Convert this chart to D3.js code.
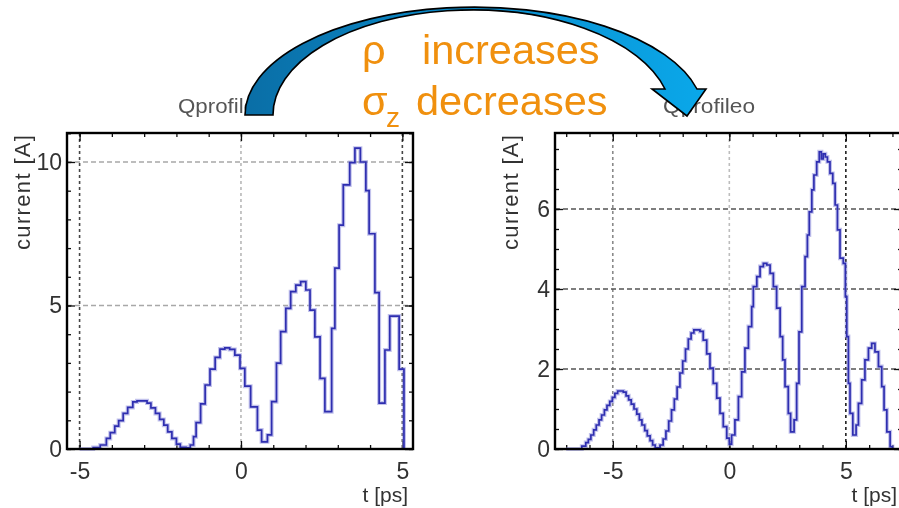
<!DOCTYPE html>
<html>
<head>
<meta charset="utf-8">
<script src="https://cdn.jsdelivr.net/npm/d3@7"></script>
<style>
  html, body { margin: 0; padding: 0; background: #ffffff; }
  svg { display: block; font-family: "Liberation Sans", Arial, Helvetica, sans-serif; }
</style>
</head>
<body>
<svg id="chart" width="899" height="508"></svg>
<script>
// Bunch current profiles: step histograms, time of bin start [ps] and current [A]
const leftT = [-5.0, -4.58, -4.36, -4.17, -4.05, -3.91, -3.79, -3.65, -3.51, -3.35,
  -3.22, -2.91, -2.79, -2.65, -2.52, -2.39, -2.27, -2.14, -2.00, -1.88,
  -1.70, -1.57, -1.47, -1.39, -1.25, -1.11, -0.96, -0.80, -0.65, -0.50,
  -0.35, -0.19, -0.03, 0.12, 0.30, 0.51, 0.64, 0.82, 0.95, 1.10,
  1.23, 1.39, 1.54, 1.70, 1.85, 2.01, 2.14, 2.29, 2.45, 2.60,
  2.81, 2.91, 3.04, 3.17, 3.37, 3.53, 3.70, 3.87, 3.97, 4.15,
  4.28, 4.46, 4.61, 4.90, 5.05];
const leftI = [0, 0.05, 0.14, 0.37, 0.57, 0.80, 0.99, 1.24, 1.45, 1.64,
  1.68, 1.60, 1.43, 1.24, 1.03, 0.83, 0.60, 0.37, 0.17, 0.06,
  0.04, 0.14, 0.43, 0.92, 1.57, 2.23, 2.78, 3.19, 3.48, 3.52,
  3.47, 3.27, 2.81, 2.19, 1.47, 0.66, 0.25, 0.49, 1.65, 2.99,
  4.09, 4.90, 5.48, 5.71, 5.83, 5.54, 4.84, 3.91, 2.46, 1.30,
  4.20, 6.30, 7.80, 9.20, 9.98, 10.48, 10.00, 9.00, 7.50, 5.45,
  1.60, 3.45, 4.63, 2.78, 0];

const rightT = [-7.0, -6.33, -6.16, -6.05, -5.94, -5.82, -5.71, -5.59, -5.48, -5.36,
  -5.25, -5.13, -5.02, -4.91, -4.79, -4.55, -4.43, -4.32, -4.21, -4.09,
  -3.97, -3.86, -3.75, -3.63, -3.52, -3.40, -3.29, -3.18, -2.97, -2.84,
  -2.72, -2.60, -2.48, -2.36, -2.24, -2.12, -2.00, -1.88, -1.76, -1.64,
  -1.52, -1.40, -1.26, -1.12, -0.97, -0.83, -0.69, -0.54, -0.40, -0.26,
  -0.11, 0.00, 0.10, 0.24, 0.39, 0.53, 0.67, 0.82, 0.96, 1.03,
  1.18, 1.32, 1.46, 1.61, 1.75, 1.89, 2.03, 2.18, 2.29, 2.39,
  2.53, 2.63, 2.78, 2.89, 2.99, 3.11, 3.25, 3.35, 3.43, 3.54,
  3.63, 3.75, 3.86, 3.95, 4.03, 4.12, 4.21, 4.32, 4.44, 4.54,
  4.64, 4.75, 4.89, 4.98, 5.04, 5.11, 5.18, 5.30, 5.44, 5.54,
  5.68, 5.82, 5.97, 6.11, 6.25, 6.40, 6.54, 6.64, 6.76, 6.90,
  7.00];
const rightI = [0, 0.07, 0.16, 0.24, 0.35, 0.48, 0.60, 0.73, 0.85, 0.98,
  1.09, 1.19, 1.29, 1.39, 1.45, 1.42, 1.33, 1.23, 1.12, 1.00,
  0.87, 0.73, 0.60, 0.46, 0.33, 0.21, 0.10, 0.03, 0.10, 0.25,
  0.45, 0.70, 0.98, 1.25, 1.55, 1.90, 2.20, 2.50, 2.75, 2.90,
  2.98, 2.98, 2.94, 2.72, 2.38, 2.02, 1.64, 1.27, 0.89, 0.56,
  0.27, 0.12, 0.35, 0.73, 1.31, 1.93, 2.52, 3.06, 3.56, 4.06,
  4.31, 4.56, 4.64, 4.60, 4.39, 4.06, 3.52, 2.81, 2.23, 1.56,
  0.89, 0.43, 0.73, 1.64, 2.93, 4.06, 4.81, 5.35, 5.93, 6.48,
  6.85, 7.18, 7.43, 7.25, 7.38, 7.30, 7.18, 6.89, 6.64, 6.10,
  5.48, 4.77, 4.64, 3.81, 2.81, 1.64, 0.89, 0.35, 0.60, 1.14,
  1.73, 2.23, 2.52, 2.64, 2.43, 2.06, 1.56, 0.98, 0.43, 0.06,
  0];

// Axis labels and tick labels
const leftXTicks = [-5, 0, 5];
const leftYTicks = [0, 5, 10];
const rightXTicks = [-5, 0, 5];
const rightYTicks = [0, 2, 4, 6];
const panelTitles = ["Qprofile", "Qprofileo"];
const xTitle = "t [ps]";
const yTitle = "current [A]";
const noteLines = ["increases", "decreases"];

const svg = d3.select("#chart");
svg.append("rect").attr("width", 899).attr("height", 508).attr("fill", "#fff");

const defs = svg.append("defs");
const grad = defs.append("linearGradient").attr("id", "arrowFill")
  .attr("x1", "0%").attr("x2", "100%").attr("y1", "0%").attr("y2", "0%");
grad.append("stop").attr("offset", "0%").attr("stop-color", "#0a6ea6");
grad.append("stop").attr("offset", "55%").attr("stop-color", "#0a8fcf");
grad.append("stop").attr("offset", "100%").attr("stop-color", "#0aa8ea");
defs.append("filter").attr("id", "soft")
  .append("feGaussianBlur").attr("stdDeviation", 0.45);

function drawPanel(o) {
  const x = d3.scaleLinear().domain(o.xDomain).range([o.left, o.right]);
  const y = d3.scaleLinear().domain(o.yDomain).range([o.bottom, o.top]);
  const g = svg.append("g").attr("filter", "url(#soft)");

  // grid
  o.xGrid.forEach(gd => {
    g.append("line")
      .attr("x1", x(gd.v)).attr("x2", x(gd.v))
      .attr("y1", o.top).attr("y2", o.bottom)
      .attr("stroke", gd.c).attr("stroke-width", 1.6)
      .attr("stroke-dasharray", "3,3");
  });
  o.yGrid.forEach(gd => {
    g.append("line")
      .attr("x1", o.left).attr("x2", o.right)
      .attr("y1", y(gd.v)).attr("y2", y(gd.v))
      .attr("stroke", gd.c).attr("stroke-width", 1.6)
      .attr("stroke-dasharray", "5,3");
  });

  // minor and major ticks on all four sides
  const styleTicks = sel => {
    sel.select(".domain").remove();
    sel.selectAll("line").attr("stroke", "#111").attr("stroke-width", 1.3);
  };
  const xMinor = d3.range(Math.ceil(o.xDomain[0]), Math.floor(o.xDomain[1]) + 1, 1);
  const yMinor = d3.range(0, o.yDomain[1], o.yMinorStep);
  g.append("g").attr("transform", `translate(0,${o.bottom})`)
    .call(d3.axisBottom(x).tickValues(xMinor).tickSize(-4).tickFormat("")).call(styleTicks);
  g.append("g").attr("transform", `translate(0,${o.top})`)
    .call(d3.axisTop(x).tickValues(xMinor).tickSize(-4).tickFormat("")).call(styleTicks);
  g.append("g").attr("transform", `translate(0,${o.bottom})`)
    .call(d3.axisBottom(x).tickValues(o.xTicks).tickSize(-8).tickFormat("")).call(styleTicks);
  g.append("g").attr("transform", `translate(0,${o.top})`)
    .call(d3.axisTop(x).tickValues(o.xTicks).tickSize(-8).tickFormat("")).call(styleTicks);
  g.append("g").attr("transform", `translate(${o.left},0)`)
    .call(d3.axisLeft(y).tickValues(yMinor).tickSize(-4).tickFormat("")).call(styleTicks);
  g.append("g").attr("transform", `translate(${o.right},0)`)
    .call(d3.axisRight(y).tickValues(yMinor).tickSize(-4).tickFormat("")).call(styleTicks);
  g.append("g").attr("transform", `translate(${o.left},0)`)
    .call(d3.axisLeft(y).tickValues(o.yTicks).tickSize(-8).tickFormat("")).call(styleTicks);
  g.append("g").attr("transform", `translate(${o.right},0)`)
    .call(d3.axisRight(y).tickValues(o.yTicks).tickSize(-8).tickFormat("")).call(styleTicks);

  // tick labels
  const styleLabels = sel => {
    sel.select(".domain").remove();
    sel.selectAll("line").remove();
    sel.selectAll("text").attr("font-size", 23).attr("fill", "#333")
      .attr("font-family", "Liberation Sans, Arial, sans-serif");
  };
  g.append("g").attr("transform", `translate(0,${o.bottom})`)
    .call(d3.axisBottom(x).tickValues(o.xTicks).tickSize(0).tickPadding(14)
      .tickFormat(d => String(d)))
    .call(styleLabels);
  g.append("g").attr("transform", `translate(${o.left},0)`)
    .call(d3.axisLeft(y).tickValues(o.yTicks).tickSize(0).tickPadding(5)
      .tickFormat(d => String(d)))
    .call(styleLabels);

  // current profile
  const pts = o.t.map((t, i) => [t, o.I[i]]);
  const line = d3.line().x(d => x(d[0])).y(d => y(d[1])).curve(d3.curveStepAfter);
  g.append("path").datum(pts).attr("d", line)
    .attr("fill", "none").attr("stroke", "#8f8fdc").attr("stroke-width", 4)
    .attr("stroke-opacity", 0.55).attr("stroke-linejoin", "miter");
  g.append("path").datum(pts).attr("d", line)
    .attr("fill", "none").attr("stroke", "#2f2fb0").attr("stroke-width", 1.7);

  // frame
  g.append("rect")
    .attr("x", o.left).attr("y", o.top)
    .attr("width", o.right - o.left).attr("height", o.bottom - o.top)
    .attr("fill", "none").attr("stroke", "#000").attr("stroke-width", 2.4);

  // axis titles
  g.append("text").attr("x", o.right - 5).attr("y", 502)
    .attr("text-anchor", "end").attr("font-size", 21).attr("fill", "#333")
    .text(xTitle);
  g.append("text")
    .attr("transform", `translate(${o.yTitleX},135) rotate(-90)`)
    .attr("text-anchor", "end").attr("dy", "0.36em")
    .attr("font-size", 22).attr("fill", "#333")
    .attr("textLength", 115).attr("lengthAdjust", "spacing")
    .text(yTitle);

  // panel title
  g.append("text").attr("x", o.titleX).attr("y", 113)
    .attr("font-size", 20).attr("fill", "#555")
    .attr("textLength", o.titleLen).attr("lengthAdjust", "spacingAndGlyphs")
    .text(o.title);
}

drawPanel({
  t: leftT, I: leftI,
  xDomain: [-5.39, 5.33], yDomain: [0, 11.01],
  left: 67, right: 413, top: 133, bottom: 449,
  xTicks: leftXTicks, yTicks: leftYTicks, yMinorStep: 1,
  xGrid: [{v: -5, c: "#444"}, {v: 0, c: "#b8b8b8"}, {v: 5, c: "#444"}],
  yGrid: [{v: 5, c: "#a8a8a8"}, {v: 10, c: "#a8a8a8"}],
  yTitleX: 22, title: panelTitles[0], titleX: 178, titleLen: 78
});

drawPanel({
  t: rightT, I: rightI,
  xDomain: [-7.48, 7.41], yDomain: [0, 7.9],
  left: 555, right: 902, top: 133, bottom: 449,
  xTicks: rightXTicks, yTicks: rightYTicks, yMinorStep: 0.5,
  xGrid: [{v: -5, c: "#8a8a8a"}, {v: 0, c: "#bdbdbd"}, {v: 5, c: "#222"}],
  yGrid: [{v: 2, c: "#555"}, {v: 4, c: "#555"}, {v: 6, c: "#555"}],
  yTitleX: 510, title: panelTitles[1], titleX: 663, titleLen: 92
});

// curved arrow from the first profile to the second
const arrow = [
  "M245,115",
  "A229.4,108 0 0 1 697,89",
  "L706,89",
  "L687,116",
  "L652,89",
  "L665,89",
  "A199.1,105 0 0 0 273,115",
  "Z"
].join(" ");
svg.append("path").attr("d", arrow)
  .attr("fill", "url(#arrowFill)").attr("stroke", "#000")
  .attr("stroke-width", 1.6).attr("stroke-linejoin", "miter");

// annotation
const orange = "#f0900e";
const note = svg.append("g").attr("fill", orange)
  .attr("font-family", "Liberation Sans, Arial, sans-serif");
note.append("text").attr("x", 362).attr("y", 64).attr("font-size", 41.5).text("ρ");
note.append("text").attr("x", 422).attr("y", 64).attr("font-size", 41.5).text(noteLines[0]);
note.append("text").attr("x", 362).attr("y", 115).attr("font-size", 41.5).text("σ");
note.append("text").attr("x", 386).attr("y", 127).attr("font-size", 28).text("z");
note.append("text").attr("x", 416).attr("y", 115).attr("font-size", 41.5).text(noteLines[1]);
</script>
</body>
</html>
